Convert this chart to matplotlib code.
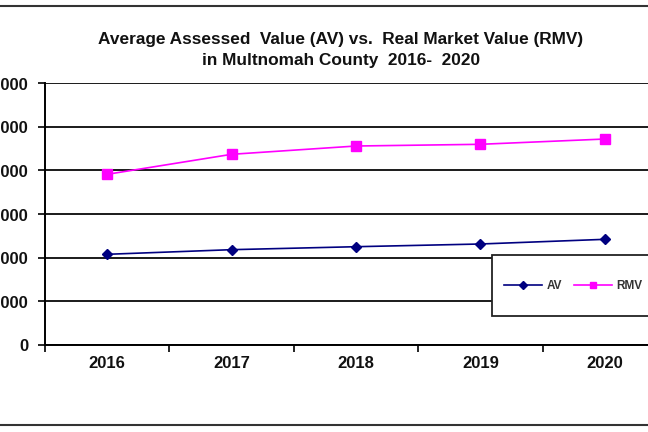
import matplotlib
matplotlib.use("Agg")
import matplotlib.pyplot as plt
from matplotlib.patches import Rectangle
from matplotlib.lines import Line2D

years = ["2016", "2017", "2018", "2019", "2020"]
av = [207700, 218300, 225100, 231300, 242000]
rmv = [390900, 436700, 455700, 459600, 471700]
yticks = [0, 100000, 200000, 300000, 400000, 500000, 600000]
ytick_labels = ["0", "$100,000", "$200,000", "$300,000", "$400,000", "$500,000", "$600,000"]
title = "Average Assessed  Value (AV) vs.  Real Market Value (RMV)\nin Multnomah County  2016-  2020"

plt.rcParams['font.family'] = ['Liberation Sans', 'DejaVu Sans']
W, H = 648, 432
fig = plt.figure(figsize=(W / 100, H / 100), dpi=100)

def fx(px):
    return px / W

def fy(py):
    return (H - py) / H

ax = fig.add_axes([fx(45), fy(345), fx(667) - fx(45), fy(83) - fy(345)])
x = list(range(len(years)))
ax.plot(x, av, color="#000080", marker="D", markersize=5, linewidth=1.2, zorder=3, clip_on=False)
ax.plot(x, rmv, color="#FF00FF", marker="s", markersize=7.5, linewidth=1.2, zorder=3, clip_on=False)

ax.set_xlim(-0.5, len(years) - 0.5)
ax.set_ylim(0, 600000)
ax.set_yticks(yticks)
ax.set_yticklabels(ytick_labels, fontsize=12, fontweight="bold", color="#111111")
ax.set_xticks(x)
ax.set_xticklabels(years, fontsize=12, fontweight="bold", color="#111111")
ax.set_xticks([i - 0.5 for i in range(len(years) + 1)], minor=True)
ax.tick_params(axis="x", which="major", length=0, pad=8)
ax.tick_params(axis="x", which="minor", length=5, width=1.2, color="black", direction="out")
ax.tick_params(axis="y", length=5, width=1.2, color="black", direction="out", pad=7)
ax.yaxis.grid(True, color="#1a1a1a", linewidth=1.4)
ax.set_axisbelow(True)
for s in ["top", "right"]:
    ax.spines[s].set_visible(False)
for s in ["left", "bottom"]:
    ax.spines[s].set_linewidth(1.4)
    ax.spines[s].set_color("black")

fig.text(fx(341), fy(50), title, ha="center", va="center", fontsize=12.4,
         fontweight="bold", color="#111111", linespacing=1.5)

# chart area border lines
fig.add_artist(Line2D([0, 1], [fy(6), fy(6)], color="#333333", linewidth=1.5))
fig.add_artist(Line2D([0, 1], [fy(425), fy(425)], color="#333333", linewidth=1.5))

# legend box
rect = Rectangle((fx(492), fy(316)), fx(680) - fx(492), fy(255) - fy(316),
                 transform=fig.transFigure, facecolor="white", edgecolor="#222222",
                 linewidth=1.3, zorder=5)
fig.add_artist(rect)
h1 = Line2D([], [], color="#000080", marker="D", markersize=4, linewidth=1.2)
h2 = Line2D([], [], color="#FF00FF", marker="s", markersize=5, linewidth=1.2)
leg = fig.legend([h1, h2], ["AV", "RMV"], loc="center left",
                 bbox_to_anchor=(fx(504), fy(286)), bbox_transform=fig.transFigure,
                 ncol=2, frameon=False, handlelength=3.2,
                 handletextpad=0.4, columnspacing=1.0, borderpad=0, borderaxespad=0,
                 prop={"weight": "bold", "size": 8.5})
leg.set_zorder(6)
for t in leg.get_texts():
    t.set_color("#333333")

fig.savefig("out.png", dpi=100)
